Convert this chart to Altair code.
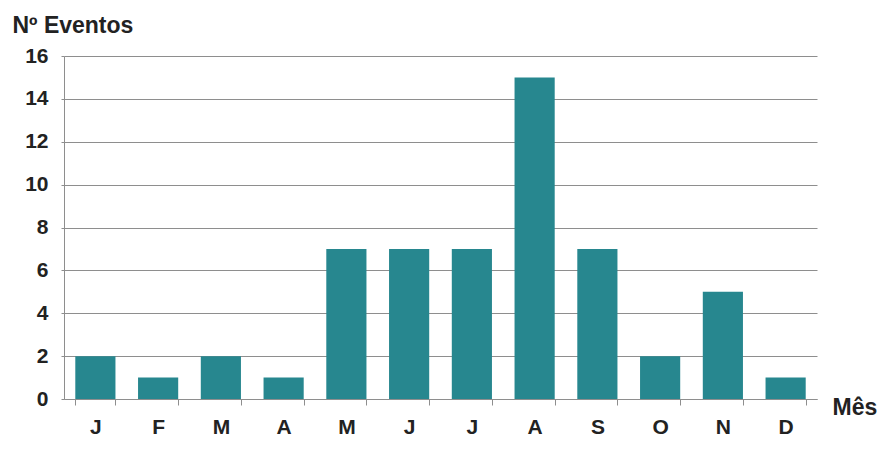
import altair as alt
import pandas as pd

# Monthly number of events
meses = ["Jan", "Fev", "Mar", "Abr", "Mai", "Jun",
         "Jul", "Ago", "Set", "Out", "Nov", "Dez"]
eventos = [2, 1, 2, 1, 7, 7, 7, 15, 7, 2, 5, 1]
y_ticks = [0, 2, 4, 6, 8, 10, 12, 14, 16]

df = pd.DataFrame({"mes": meses, "eventos": eventos})

FONT = "Liberation Sans"
INK = "#222222"
GRID = "#8e8e8e"
BAR = "#27878f"

chart = (
    alt.Chart(df)
    .mark_bar(color=BAR)
    .encode(
        x=alt.X(
            "mes:N",
            sort=meses,
            scale=alt.Scale(paddingInner=0.36, paddingOuter=0.18),
            axis=alt.Axis(
                title="Mês",
                titleAngle=0,
                titleAlign="left",
                titleBaseline="alphabetic",
                titleX=768,
                titleY=15,
                titleFont=FONT,
                titleFontSize=23,
                titleFontWeight="bold",
                titleColor=INK,
                labelExpr="slice(datum.label, 0, 1)",
                labelAngle=0,
                labelFont=FONT,
                labelFontSize=21,
                labelFontWeight="bold",
                labelColor=INK,
                labelPadding=11,
                tickBand="extent",
                tickSize=6,
                tickColor=GRID,
                domainColor=GRID,
                grid=False,
            ),
        ),
        y=alt.Y(
            "eventos:Q",
            scale=alt.Scale(domain=[0, 16], nice=False),
            axis=alt.Axis(
                title="Nº Eventos",
                values=y_ticks,
                titleAngle=0,
                titleAlign="left",
                titleBaseline="alphabetic",
                titleX=-52,
                titleY=-24,
                titleFont=FONT,
                titleFontSize=23,
                titleFontWeight="bold",
                titleColor=INK,
                labelFont=FONT,
                labelFontSize=21,
                labelFontWeight="bold",
                labelColor=INK,
                labelPadding=13,
                tickSize=3,
                tickColor=GRID,
                domainColor=GRID,
                gridColor=GRID,
                gridWidth=1,
            ),
        ),
    )
    .properties(
        width=753,
        height=343,
        autosize=alt.AutoSizeParams(type="none"),
        padding={"left": 64, "top": 56, "right": 65, "bottom": 58},
        background="white",
    )
    .configure_view(stroke=None)
)

chart.save("out.html", embed_options={"renderer": "svg", "actions": False})
